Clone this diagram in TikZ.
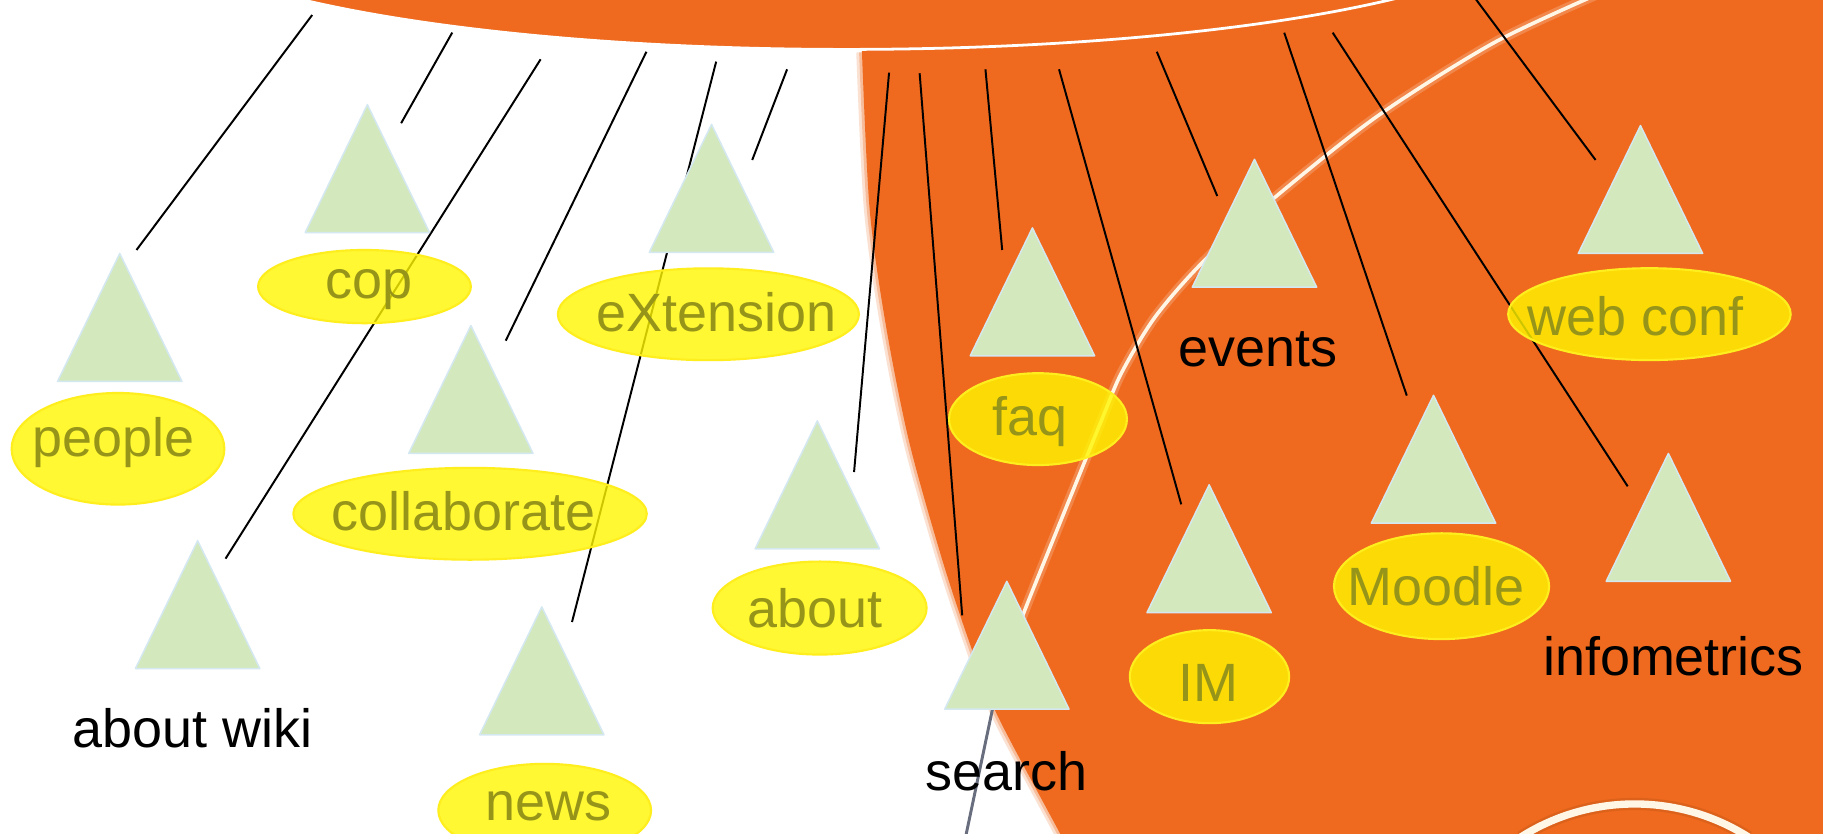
\documentclass[tikz,border=0pt]{standalone}
\usepackage{fontspec}
\setmainfont{Liberation Sans}
\usetikzlibrary{shapes.geometric}

\definecolor{siteorange}{RGB}{239,106,30}
\definecolor{treegreen}{RGB}{212,232,189}
\definecolor{treeedge}{RGB}{212,232,242}
\definecolor{blobyellow}{RGB}{255,247,0}
\definecolor{blobedge}{RGB}{255,238,30}
\definecolor{blobtext}{RGB}{150,148,25}
\definecolor{glowcream}{RGB}{255,246,230}
\definecolor{shadowgrey}{RGB}{104,110,126}

\newcommand{\px}{0.025cm}
\newcommand{\wordsize}{\fontsize{33}{39}\selectfont}

\tikzset{
  stick/.style={black, line width=1.2pt},
  treeshape/.style={fill=treegreen, draw=treeedge, line width=0.9pt, line join=round},
  tree/.pic={\filldraw[treeshape] (0,0) -- (-53.5,110) -- (53.5,110) -- cycle;},
  blob/.style={ellipse, fill=blobyellow, fill opacity=0.8, draw=blobedge, line width=1.3pt, inner sep=0pt},
  blobword/.style={anchor=base, inner sep=0pt, text=blobtext, font=\wordsize},
  word/.style={anchor=base, inner sep=0pt, font=\wordsize},
  glowhalo/.style={siteorange!60!white, opacity=0.5, line width=6pt, line cap=round},
  glowcore/.style={glowcream, line width=2.2pt, line cap=round}
}

\begin{document}
\begin{tikzpicture}[x=0.025cm, y=-0.025cm]

  \useasboundingbox (0,0) rectangle (1568,717);
  \clip (0,0) rectangle (1568,717);
  \fill[white] (0,0) rectangle (1568,717);

  % orange backdrop
  \fill[siteorange] (1580,-10) -- (741.4,-10) -- plot[smooth] coordinates {(741.4,45) (748,180) (762,280) (782,380) (810,480) (834,553) (857,613.5) (911.7,716.8) (918,730)} -- (1580,730) -- cycle;
  \draw[siteorange, opacity=0.2, line width=7pt] plot[smooth] coordinates {(741.4,45) (748,180) (762,280) (782,380) (810,480) (834,553) (857,613.5) (911.7,716.8) (918,730)};
  \draw[siteorange, opacity=0.3, line width=3.5pt] plot[smooth] coordinates {(741.4,45) (748,180) (762,280) (782,380) (810,480) (834,553) (857,613.5) (911.7,716.8) (918,730)};
  \fill[siteorange] (728,-71.7) ellipse [x radius=600, y radius=114.2];
  \draw[white, line width=1.7pt] (728,-71.7) ellipse [x radius=600, y radius=114.2];

  % glowing streaks
  \draw[glowhalo] plot[smooth] coordinates {(1372,-4) (1284,37.3) (1184,100.4) (1093.9,172) (1035,225) (993.7,272.4) (965,320) (948.7,358.4) (913.7,444.7) (883.6,519.3) (872,550)};
  \draw[glowcore] plot[smooth] coordinates {(1372,-4) (1284,37.3) (1184,100.4) (1093.9,172) (1035,225) (993.7,272.4) (965,320) (948.7,358.4) (913.7,444.7) (883.6,519.3) (872,550)};
  \draw[shadowgrey, line width=1.8pt] (861,575) -- (830.5,720);
  \draw[siteorange!85!black, opacity=0.5, line width=7.5pt] (1308,720) .. controls (1367.8,682) and (1444.2,682) .. (1504,720);
  \draw[glowcream, line width=4.5pt] (1308,720) .. controls (1367.8,682) and (1444.2,682) .. (1504,720);

  % sticks
  \coordinate (people-top) at (268.5,12.9);
  \coordinate (people-tip) at (117.4,215);
  \coordinate (cop-top) at (389,28);
  \coordinate (cop-tip) at (345,106);
  \coordinate (aboutwiki-top) at (465,51);
  \coordinate (aboutwiki-tip) at (194,480.5);
  \coordinate (collaborate-top) at (556,44.5);
  \coordinate (collaborate-tip) at (435,293);
  \coordinate (news-top) at (616,53);
  \coordinate (news-tip) at (492,535);
  \coordinate (extension-top) at (677,59.6);
  \coordinate (extension-tip) at (647,137.6);
  \coordinate (about-top) at (764.7,62.5);
  \coordinate (about-tip) at (734.6,406);
  \coordinate (search-top) at (791,63);
  \coordinate (search-tip) at (827.6,529.3);
  \coordinate (faq-top) at (847.6,59.6);
  \coordinate (faq-tip) at (862,215);
  \coordinate (im-top) at (910.9,59.6);
  \coordinate (im-tip) at (1016,433.8);
  \coordinate (events-top) at (995,44.5);
  \coordinate (events-tip) at (1047,168.6);
  \coordinate (moodle-top) at (1104.6,28.1);
  \coordinate (moodle-tip) at (1210,340.3);
  \coordinate (infometrics-top) at (1146.3,28.1);
  \coordinate (infometrics-tip) at (1400,418.3);
  \coordinate (webconf-top) at (1268.4,-2);
  \coordinate (webconf-tip) at (1372.4,137.6);

  \draw[stick] (people-top) -- (people-tip);
  \draw[stick] (cop-top) -- (cop-tip);
  \draw[stick] (aboutwiki-top) -- (aboutwiki-tip);
  \draw[stick] (collaborate-top) -- (collaborate-tip);
  \draw[stick] (news-top) -- (news-tip);
  \draw[stick] (extension-top) -- (extension-tip);
  \draw[stick] (about-top) -- (about-tip);
  \draw[stick] (search-top) -- (search-tip);
  \draw[stick] (faq-top) -- (faq-tip);
  \draw[stick] (im-top) -- (im-tip);
  \draw[stick] (events-top) -- (events-tip);
  \draw[stick] (moodle-top) -- (moodle-tip);
  \draw[stick] (infometrics-top) -- (infometrics-tip);
  \draw[stick] (webconf-top) -- (webconf-tip);

  % trees
  \pic at (103,218) {tree};
  \pic at (316,90) {tree};
  \pic at (405,280) {tree};
  \pic at (612,107) {tree};
  \pic at (170,465) {tree};
  \pic at (466,522) {tree};
  \pic at (703,362) {tree};
  \pic at (888,196) {tree};
  \pic at (1079,137) {tree};
  \pic at (866,500) {tree};
  \pic at (1040,417) {tree};
  \pic at (1233,340) {tree};
  \pic at (1411,108) {tree};
  \pic at (1435,390) {tree};

  % ovals
  \node[blob, minimum width=183*\px, minimum height=96*\px] (people-oval) at (101.5,386) {};
  \node[blob, minimum width=183*\px, minimum height=63*\px] (cop-oval) at (313.5,246.5) {};
  \node[blob, minimum width=259*\px, minimum height=79*\px] (extension-oval) at (609.3,270.3) {};
  \node[blob, minimum width=304*\px, minimum height=79*\px] (collaborate-oval) at (404.3,441.9) {};
  \node[blob, minimum width=184*\px, minimum height=80*\px] (about-oval) at (705,523) {};
  \node[blob, minimum width=183*\px, minimum height=80*\px] (news-oval) at (468.5,697) {};
  \node[blob, minimum width=153*\px, minimum height=79*\px] (faq-oval) at (892.8,360.5) {};
  \node[blob, minimum width=243*\px, minimum height=79*\px] (webconf-oval) at (1418.7,270.2) {};
  \node[blob, minimum width=185*\px, minimum height=91*\px] (moodle-oval) at (1239.9,504.2) {};
  \node[blob, minimum width=137*\px, minimum height=80*\px] (im-oval) at (1040.3,582) {};

  % words
  \node[blobword] (people) at (97.5,393) {people};
  \node[blobword] (cop) at (317.5,256.6) {cop};
  \node[blobword] (extension) at (616,284.7) {eXtension};
  \node[blobword] (collaborate) at (398.5,456.2) {collaborate};
  \node[blobword] (about) at (701,539.9) {about};
  \node[blobword] (news) at (471.8,705.6) {news};
  \node[blobword] (faq) at (885.5,374.2) {faq};
  \node[blobword] (webconf) at (1407,288.5) {web conf};
  \node[blobword] (moodle) at (1235.2,520.7) {Moodle};
  \node[blobword] (im) at (1039.5,603.2) {IM};

  \node[word] (aboutwiki) at (165.7,643.1) {about wiki};
  \node[word] (search) at (865.5,679.5) {search};
  \node[word] (events) at (1082,315.4) {events};
  \node[word] (infometrics) at (1439.4,580.9) {infometrics};

\end{tikzpicture}
\end{document}
